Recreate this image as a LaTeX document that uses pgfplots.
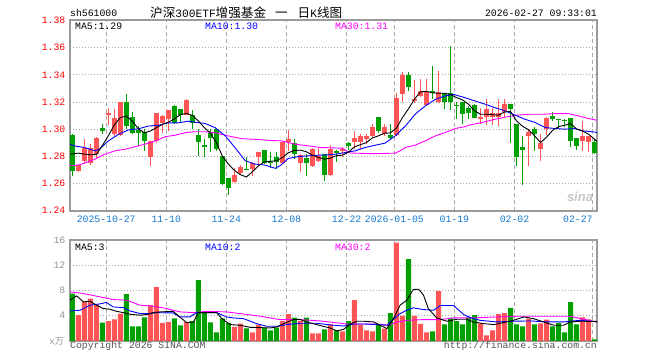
\documentclass[border=0pt]{standalone}
\usepackage{pgfplots}
\pgfplotsset{compat=1.18}
\usepackage{pgfplotstable}
\usepackage{fontspec}
\setmainfont{Liberation Mono}
\newfontfamily\cjk{Noto Sans CJK SC}
\newfontfamily\sansf{Liberation Sans}
\definecolor{cred}{RGB}{255,85,85}
\definecolor{cgreen}{RGB}{0,160,0}
\definecolor{ticred}{RGB}{255,0,0}
\definecolor{dateblue}{RGB}{20,120,210}
\definecolor{framec}{RGB}{155,155,155}
\definecolor{gridc}{RGB}{170,170,170}
\definecolor{txtgray}{RGB}{150,150,150}
\definecolor{copyc}{RGB}{85,85,85}
\definecolor{mablue}{RGB}{0,0,255}
\definecolor{mamag}{RGB}{255,0,255}

\pgfplotstableread{
k d o h l c v
0 0 1.2954 1.2961 1.2652 1.2688 7.52
1 1 1.2690 1.2735 1.2685 1.2731 4.08
2 1 1.2766 1.2924 1.2753 1.2863 6.20
3 1 1.2749 1.2888 1.2734 1.2863 6.73
4 1 1.2814 1.2944 1.2778 1.2936 5.77
5 0 1.3005 1.3034 1.2961 1.2985 2.91
6 1 1.3105 1.3156 1.3029 1.3115 3.13
7 1 1.2961 1.3149 1.2950 1.3083 3.44
8 1 1.2954 1.3198 1.2950 1.3198 4.34
9 0 1.3200 1.3261 1.3003 1.3022 7.42
10 0 1.3090 1.3124 1.2961 1.2973 2.33
11 0 1.2990 1.3022 1.2875 1.2973 2.33
12 0 1.2978 1.2998 1.2839 1.2912 3.76
13 1 1.2790 1.2912 1.2724 1.2912 5.67
14 1 1.2912 1.3120 1.2900 1.3115 8.53
15 1 1.3046 1.3107 1.2973 1.3095 2.86
16 1 1.3076 1.3144 1.2985 1.3144 3.02
17 0 1.3168 1.3180 1.3039 1.3046 3.60
18 0 1.3149 1.3149 1.3046 1.3100 2.49
19 1 1.3107 1.3220 1.3100 1.3217 3.02
20 0 1.3107 1.3139 1.2997 1.3046 3.13
21 0 1.2954 1.2997 1.2802 1.2905 9.64
22 0 1.2880 1.2929 1.2797 1.2866 4.50
23 0 1.2973 1.2997 1.2827 1.2936 2.97
24 0 1.3002 1.3010 1.2839 1.2851 1.38
25 0 1.2800 1.2802 1.2588 1.2595 3.60
26 0 1.2639 1.2639 1.2514 1.2563 2.86
27 1 1.2612 1.2710 1.2602 1.2661 2.23
28 1 1.2675 1.2734 1.2668 1.2717 2.75
29 0 1.2705 1.2790 1.2698 1.2700 2.01
30 1 1.2705 1.2758 1.2651 1.2749 1.38
31 1 1.2790 1.2832 1.2724 1.2827 2.60
32 0 1.2844 1.2844 1.2741 1.2749 2.12
33 0 1.2754 1.2827 1.2710 1.2746 1.70
34 0 1.2790 1.2827 1.2705 1.2754 2.12
35 1 1.2749 1.2905 1.2741 1.2905 3.13
36 1 1.2905 1.2993 1.2839 1.2929 4.24
37 0 1.2900 1.2924 1.2778 1.2814 3.70
38 1 1.2749 1.2814 1.2685 1.2807 3.18
39 0 1.2785 1.2814 1.2656 1.2749 3.70
40 1 1.2724 1.2863 1.2717 1.2851 1.22
41 1 1.2766 1.2863 1.2758 1.2802 1.22
42 0 1.2814 1.2814 1.2619 1.2663 1.85
43 1 1.2663 1.2880 1.2656 1.2856 2.65
44 0 1.2836 1.2842 1.2758 1.2826 1.70
45 1 1.2839 1.2871 1.2790 1.2851 1.54
46 0 1.2896 1.2901 1.2847 1.2877 3.13
47 1 1.2908 1.2982 1.2852 1.2933 6.46
48 1 1.2905 1.2962 1.2852 1.2951 2.60
49 1 1.2925 1.2962 1.2888 1.2951 1.70
50 1 1.2945 1.3036 1.2940 1.3017 1.54
51 0 1.3087 1.3087 1.2969 1.2988 2.60
52 1 1.2962 1.3036 1.2950 1.3012 1.96
53 0 1.2954 1.3036 1.2918 1.2933 4.40
54 1 1.2954 1.3269 1.2950 1.3227 15.58
55 1 1.3256 1.3421 1.3200 1.3396 3.97
56 0 1.3396 1.3423 1.3281 1.3310 12.98
57 1 1.3205 1.3359 1.3195 1.3225 3.97
58 1 1.3244 1.3367 1.3239 1.3281 2.70
59 1 1.3180 1.3372 1.3175 1.3270 1.38
60 0 1.3281 1.3465 1.3225 1.3264 1.54
61 1 1.3200 1.3428 1.3195 1.3275 7.89
62 0 1.3264 1.3269 1.3146 1.3200 2.65
63 0 1.3264 1.3612 1.3141 1.3200 3.66
64 0 1.3176 1.3200 1.3072 1.3170 3.13
65 0 1.3200 1.3200 1.3037 1.3109 2.65
66 0 1.3158 1.3170 1.3074 1.3122 3.81
67 0 1.3175 1.3183 1.3078 1.3085 4.08
68 1 1.3072 1.3158 1.3036 1.3090 2.81
69 1 1.3092 1.3219 1.3031 1.3151 0.90
70 1 1.3092 1.3158 1.3031 1.3122 1.70
71 1 1.3092 1.3225 1.3026 1.3122 4.24
72 1 1.3126 1.3225 1.3092 1.3184 4.40
73 0 1.3183 1.3183 1.2900 1.3146 5.25
74 0 1.3036 1.3036 1.2729 1.2790 2.65
75 0 1.2869 1.2950 1.2589 1.2848 2.33
76 1 1.2950 1.2999 1.2729 1.2980 3.55
77 0 1.3004 1.3018 1.2839 1.2962 2.65
78 1 1.2852 1.2962 1.2767 1.2896 2.81
79 1 1.3004 1.3090 1.2955 1.3085 3.39
80 0 1.3093 1.3126 1.3060 1.3072 2.33
81 0 1.3072 1.3072 1.3004 1.3065 2.86
82 0 1.3067 1.3072 1.3018 1.3060 1.38
83 0 1.3085 1.3085 1.2865 1.2914 6.15
84 0 1.2933 1.2933 1.2844 1.2876 2.65
85 1 1.2914 1.3061 1.2839 1.2945 3.76
86 1 1.2905 1.2945 1.2827 1.2945 3.44
87 0 1.2908 1.2925 1.2815 1.2822 0.26
}\candles

\pgfplotsset{
  kaxis/.style={
    scale only axis, width=527bp, xmin=-0.383, xmax=87.4,
    axis line style={draw=framec, line width=1.2bp},
    major tick length=0pt,
    xtick={5.65,15.65,25.65,35.65,45.7,53.65,63.65,73.65},
    extra x ticks={86.7},
    extra x tick style={grid=major},
    xmajorgrids, ymajorgrids,
    x grid style={draw=gridc, dash pattern=on 4bp off 3bp, line width=0.8bp},
    y grid style={draw=gridc, dash pattern=on 1bp off 2bp, line width=0.8bp},
    tick label style={font=\fontsize{9.8bp}{10bp}\selectfont},
    yticklabel style={anchor=east, inner sep=0pt, xshift=-4.5bp},
  },
  wick/.style={draw=none, mark=none, forget plot,
    restrict expr to domain={\thisrow{d}}{#1},
  },
}

\begin{document}
\begin{tikzpicture}
\useasboundingbox (0,0) rectangle (660bp,360bp);
\fill[white] (0,0) rectangle (660bp,360bp);

% ---------- price panel ----------
\begin{axis}[kaxis, at={(70bp,149bp)}, anchor=south west, height=191bp,
  ymin=1.2395, ymax=1.3805,
  ytick={1.24,1.26,1.28,1.30,1.32,1.34,1.36,1.38},
  yticklabels={1.24,1.26,1.28,1.30,1.32,1.34,1.36,1.38},
  yticklabel style={text=ticred},
  xticklabels={2025-10-27,11-10,11-24,12-08,12-22,2026-01-05,01-19,02-02},
  xticklabel style={text=dateblue, anchor=north, inner sep=0pt, yshift=-5bp},
  extra x tick labels={02-27},
  extra x tick style={grid=major, xticklabel style={anchor=north east}},
]
% red wicks and bodies
\addplot[wick={0.5:1.5}, error bars/.cd, y dir=plus, y explicit, error mark=none,
  error bar style={draw=cred, line width=1bp}]
  table[x=k, y=l, y error expr=\thisrow{h}-\thisrow{l}] {\candles};
\addplot[wick={0.5:1.5}, error bars/.cd, y dir=plus, y explicit, error mark=none,
  error bar style={draw=cred, line width=5bp}]
  table[x=k, y expr={min(\thisrow{o},\thisrow{c})}, y error expr={max(abs(\thisrow{c}-\thisrow{o}),0.0008)}] {\candles};
% green wicks and bodies
\addplot[wick={-0.5:0.5}, error bars/.cd, y dir=plus, y explicit, error mark=none,
  error bar style={draw=cgreen, line width=1bp}]
  table[x=k, y=l, y error expr=\thisrow{h}-\thisrow{l}] {\candles};
\addplot[wick={-0.5:0.5}, error bars/.cd, y dir=plus, y explicit, error mark=none,
  error bar style={draw=cgreen, line width=5bp}]
  table[x=k, y expr={min(\thisrow{o},\thisrow{c})}, y error expr={max(abs(\thisrow{c}-\thisrow{o}),0.0008)}] {\candles};
% MA30
\addplot[mamag, line width=0.9bp, mark=none] coordinates {
(-0.38,1.2729) (1,1.2734) (2.1,1.2749) (3.8,1.2778) (5.4,1.2814) (7.1,1.2839) (8.8,1.2851) (9.9,1.2863) (12.1,1.2888) (13.8,1.2912) (15.5,1.2944) (17.1,1.2954) (18.8,1.2973) (20.2,1.2980) (22.1,1.2980) (23.8,1.2973) (26,1.2949) (28.2,1.2929) (30.4,1.2924) (32.6,1.2917) (34.9,1.2912) (37.1,1.2888) (39.3,1.2876) (41.5,1.2863) (43,1.2862) (45,1.2858) (46.3,1.2823) (50,1.2818) (53.8,1.2822) (54.6,1.2839) (55.5,1.2864) (57.1,1.2881) (58.8,1.2913) (60.5,1.2950) (62.1,1.2974) (63.8,1.3004) (65.5,1.3018) (66,1.3028) (68.2,1.3048) (70.4,1.3072) (72.6,1.3092) (74,1.3102) (76,1.3109) (78.2,1.3109) (80.4,1.3114) (82.6,1.3114) (84.3,1.3097) (86,1.3077) (87.4,1.3065)};
% MA10
\addplot[mablue, line width=0.9bp, mark=none] coordinates {
(-0.38,1.2888) (0.4,1.2875) (2.1,1.2863) (3.8,1.2839) (4.5,1.2851) (6,1.2912) (7.7,1.2961) (9.3,1.2993) (11,1.3002) (12.7,1.3022) (14.3,1.3027) (16,1.3046) (17.7,1.3046) (19.3,1.3058) (20.4,1.3051) (22.1,1.3041) (23.8,1.3010) (25.5,1.2949) (27.1,1.2863) (28.8,1.2766) (30.4,1.2741) (32.1,1.2734) (33.8,1.2710) (34.6,1.2729) (36,1.2783) (37.7,1.2797) (39.3,1.2802) (41,1.2807) (42.7,1.2810) (44,1.2815) (45.5,1.2827) (47.1,1.2839) (48.8,1.2864) (50.5,1.2881) (52.1,1.2896) (53.8,1.2950) (55.5,1.3023) (57.1,1.3109) (58.8,1.3171) (60.5,1.3220) (62.1,1.3244) (63.5,1.3256) (65.5,1.3230) (67.1,1.3207) (68.8,1.3183) (70.4,1.3158) (72.1,1.3134) (73.8,1.3102) (75.4,1.3072) (77.1,1.3048) (78.8,1.3011) (80.4,1.3004) (82.1,1.2999) (83.8,1.3004) (84.9,1.2987) (86.6,1.2980) (87.4,1.2975)};
% MA5
\addplot[black, line width=0.9bp, mark=none] coordinates {
(-0.38,1.2815) (1,1.2822) (2,1.2815) (3,1.2810) (4,1.2812) (5,1.2878) (6,1.2950) (7,1.3030) (8,1.3085) (9,1.3095) (10,1.3058) (11,1.3002) (12,1.2973) (13,1.2985) (14,1.3010) (15,1.3034) (16,1.3051) (17,1.3075) (18,1.3107) (19,1.3115) (20,1.3100) (21,1.3060) (22,1.3010) (23,1.2970) (24,1.2900) (25,1.2800) (26,1.2741) (27,1.2695) (28,1.2663) (29,1.2646) (30,1.2685) (31,1.2729) (32,1.2758) (33,1.2762) (34,1.2766) (35,1.2790) (36,1.2825) (37,1.2842) (38,1.2844) (39,1.2832) (40,1.2807) (41,1.2790) (42,1.2778) (43,1.2785) (44,1.2804) (45,1.2807) (46,1.2830) (47,1.2868) (48,1.2885) (49,1.2900) (50,1.2935) (51,1.2950) (52,1.2969) (53,1.2972) (54,1.3008) (55,1.3085) (56,1.3150) (57,1.3220) (58,1.3275) (59,1.3278) (60,1.3268) (61,1.3264) (62,1.3264) (63,1.3255) (64,1.3232) (65,1.3215) (66,1.3183) (67,1.3134) (68,1.3109) (69,1.3109) (70,1.3106) (71,1.3102) (72,1.3126) (73,1.3130) (74,1.3060) (75,1.3020) (76,1.2995) (77,1.2950) (78,1.2900) (79,1.2940) (80,1.2990) (81,1.3018) (82,1.3028) (83,1.3040) (84,1.3000) (85,1.2985) (86,1.2962) (87,1.2925) (87.4,1.2910)};
\end{axis}

% ---------- volume panel ----------
\begin{axis}[kaxis, at={(70bp,19bp)}, anchor=south west, height=101bp,
  ymin=0, ymax=16,
  ytick={4,8,12,16}, yticklabels={4,8,12,16},
  yticklabel style={text=txtgray},
  xticklabels={}, extra x tick labels={},
]
\addplot[ybar, bar width=5bp, bar shift=0pt, fill=cred, draw=none, forget plot,
  restrict expr to domain={\thisrow{d}}{0.5:1.5}] table[x=k, y=v] {\candles};
\addplot[ybar, bar width=5bp, bar shift=0pt, fill=cgreen, draw=none, forget plot,
  restrict expr to domain={\thisrow{d}}{-0.5:0.5}] table[x=k, y=v] {\candles};
\addplot[mamag, line width=0.9bp, mark=none] coordinates {
(-0.38,7.79) (1.84,7.52) (4.6,6.99) (6.8,6.57) (9.05,6.46) (11.3,5.67) (13.5,5.51) (15.7,5.14) (17.9,4.61) (20.2,4.5) (22.4,4.7) (25.7,4.61) (27.95,4.34) (31.3,3.92) (34.6,3.39) (37.9,3.39) (41.3,3.18) (42.95,3.0) (45.7,2.7) (48.5,2.7) (51.3,2.65) (52.7,2.49) (54.1,3.02) (55.7,3.28) (58.5,3.39) (61.3,3.39) (63.5,3.66) (66.8,3.66) (70.7,3.81) (74,3.92) (79.1,3.92) (82.95,3.92) (85.2,3.44) (87.4,3.02)};
\addplot[mablue, line width=0.9bp, mark=none] coordinates {
(-0.38,4.77) (1.3,4.87) (2.95,5.67) (4.6,5.88) (5.7,6.1) (6.8,5.4) (8.5,5.3) (9.6,4.77) (11.3,4.34) (12.9,4.34) (14,4.5) (15.7,4.45) (16.8,4.45) (17.9,3.81) (19.6,3.81) (20.7,4.5) (22.4,4.5) (24.05,4.5) (25.7,3.81) (26.8,3.66) (28.5,3.55) (30.7,2.75) (32.4,2.33) (34.1,2.33) (35.7,2.6) (37.9,2.81) (40.7,2.81) (42.95,2.55) (45.2,2.38) (46.9,2.7) (48.5,2.7) (50.7,2.6) (52.4,2.49) (53.5,3.44) (54.6,4.34) (55.7,4.87) (56.8,5.25) (58.5,4.98) (60.2,4.87) (61.3,5.62) (63.5,5.62) (65.2,4.19) (66.3,3.71) (67.9,3.28) (70.7,3.02) (73.5,3.13) (76.3,3.18) (79.1,3.02) (81.8,3.02) (84.6,3.28) (87.4,3.02)};
\addplot[black, line width=0.9bp, mark=none] coordinates {
(-0.38,6.46) (0.73,7.15) (1.84,6.2) (2.95,6.3) (4.06,5.67) (5.17,5.14) (6.28,5.03) (7.39,4.7) (8.5,4.5) (9.6,4.24) (11.3,4.08) (12.4,4.19) (13.5,4.5) (14.6,4.61) (16.8,4.7) (17.9,3.81) (19.05,2.91) (20.2,3.02) (21,4.5) (22.4,4.5) (24.05,4.5) (24.9,3.55) (26.3,2.6) (27.95,2.49) (29.6,2.17) (31.3,2.12) (33,2.07) (34.1,2.23) (35.2,2.75) (36.8,3.39) (37.9,3.44) (39,3.02) (40.7,2.6) (41.8,2.33) (42.9,2.07) (44.07,1.6) (45.2,1.85) (46.3,2.7) (47.4,3.13) (48.5,3.13) (50.2,3.02) (51.3,2.49) (52.4,1.96) (53.5,3.55) (54.6,5.67) (55.7,6.46) (56.8,8.16) (57.7,8.2) (58.5,7.26) (59.3,5.14) (60.7,3.66) (62.4,3.13) (64.05,3.44) (65.7,3.44) (66.8,3.02) (68.5,2.75) (70.2,2.6) (71.8,2.91) (73.5,3.28) (75.2,3.81) (76.8,3.55) (78.5,3.02) (80.2,2.49) (81.8,2.49) (82.95,3.02) (84.6,3.13) (87.4,3.1)};
\end{axis}

% ---------- texts ----------
\tikzset{t/.style={font=\fontsize{9.8bp}{10bp}\selectfont, inner sep=0pt}}
\node[t, anchor=west] at (70bp,347bp) {sh561000};
\node[anchor=west, inner sep=0pt] at (150bp,347bp) {{\cjk\fontsize{12.6bp}{13bp}\selectfont 沪深}{\fontsize{11.2bp}{13bp}\selectfont 300ETF}{\cjk\fontsize{12.6bp}{13bp}\selectfont 增强基金\hspace{9bp}一\hspace{10bp}日}{\fontsize{11.2bp}{13bp}\selectfont K}{\cjk\fontsize{12.6bp}{13bp}\selectfont 线图}};
\node[t, anchor=east] at (597bp,347bp) {2026-02-27 09:33:01};
\node[t, anchor=west] at (75bp,334bp) {MA5:1.29};
\node[t, anchor=west, text=mablue] at (205bp,334bp) {MA10:1.30};
\node[t, anchor=west, text=mamag] at (335bp,334bp) {MA30:1.31};
\node[t, anchor=west] at (75bp,113bp) {MA5:3};
\node[t, anchor=west, text=mablue] at (205bp,113bp) {MA10:2};
\node[t, anchor=west, text=mamag] at (335bp,113bp) {MA30:2};
\node[t, anchor=west, text=copyc] at (70bp,14bp) {Copyright 2026 SINA.COM};
\node[t, anchor=east, text=copyc] at (597bp,14bp) {http://finance.sina.com.cn};
\node[anchor=east, inner sep=0pt, text=txtgray] at (64bp,19bp) {{\fontsize{9bp}{10bp}\selectfont x}{\cjk\fontsize{9bp}{10bp}\selectfont 万}};
\node[anchor=center, inner sep=0pt, text=black!22] at (580bp,163bp) {\sansf\bfseries\itshape\fontsize{13bp}{14bp}\selectfont sina};
\end{tikzpicture}
\end{document}
